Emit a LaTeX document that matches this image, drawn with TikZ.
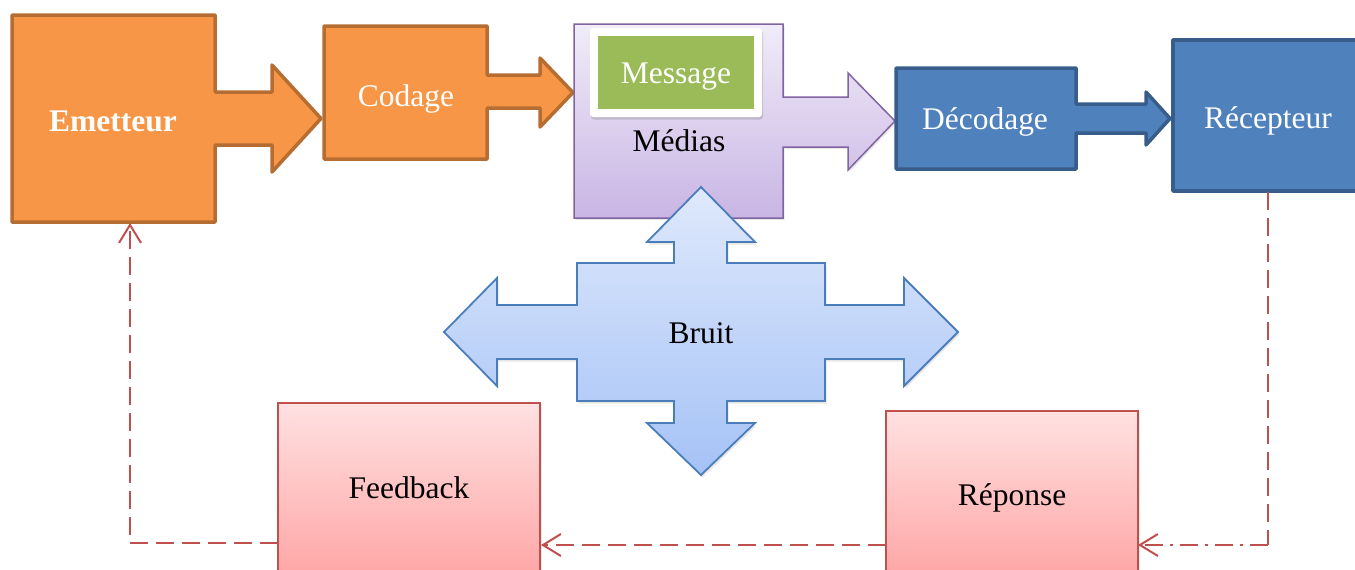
\documentclass[tikz,border=0pt]{standalone}
\usepackage{fontspec}
\setmainfont{Liberation Serif}
\usetikzlibrary{arrows.meta,shadows}

\definecolor{orfill}{HTML}{F79646}
\definecolor{ordraw}{HTML}{B66D31}
\definecolor{purtop}{HTML}{F0ECF8}
\definecolor{purbot}{HTML}{C9B5E4}
\definecolor{purdraw}{HTML}{8064A2}
\definecolor{msggreen}{HTML}{9BBB59}
\definecolor{blfill}{HTML}{4F81BD}
\definecolor{bldraw}{HTML}{385D8A}
\definecolor{brtop}{HTML}{DFE9FC}
\definecolor{brbot}{HTML}{A5C2F6}
\definecolor{brdraw}{HTML}{4A7EBB}
\definecolor{pktop}{HTML}{FFE1E1}
\definecolor{pkbot}{HTML}{FF9F9F}
\definecolor{pkdraw}{HTML}{C0504D}
\definecolor{fbred}{HTML}{C0504D}

\tikzset{
  txt/.style={anchor=base, inner sep=0pt, font=\fontsize{31.5}{36}\selectfont},
  orangeblk/.style={fill=orfill, draw=ordraw, line width=3.5pt, line join=round},
  blueblk/.style={fill=blfill, draw=bldraw, line width=3.5pt, line join=round},
  purpleblk/.style={top color=purtop, bottom color=purbot, draw=purdraw, line width=1.5pt,
    drop shadow={shadow xshift=1.5pt, shadow yshift=-2pt, opacity=0.18}},
  noiseblk/.style={top color=brtop, bottom color=brbot, draw=brdraw, line width=1.8pt,
    drop shadow={shadow xshift=1.5pt, shadow yshift=-2.5pt, opacity=0.2}},
  pinkbox/.style={rectangle, inner sep=0pt, top color=pktop, bottom color=pkbot, draw=pkdraw,
    line width=1.5pt, drop shadow={shadow xshift=2pt, shadow yshift=-1pt, opacity=0.18}},
  fbline/.style={draw=fbred, line width=2pt, dash pattern=on 18pt off 8pt},
  fbdashdot/.style={draw=fbred, line width=2pt, dash pattern=on 18pt off 7pt on 3pt off 7pt},
  barb/.style={-{Straight Barb[length=18pt,width=22pt,line width=2pt]}}
}

\begin{document}
\begin{tikzpicture}[x=1pt,y=-1pt]
\useasboundingbox (0,0) rectangle (1355,570);
\clip (0,0) rectangle (1355,570);

% Emetteur with its outgoing arrow
\draw[orangeblk] (12,15) -- (215,15) -- (215,92) -- (272,92) -- (272,65) -- (321,118.5)
  -- (272,172) -- (272,145) -- (215,145) -- (215,222) -- (12,222) -- cycle;
\node[txt, text=white, font=\fontsize{31.5}{36}\selectfont\bfseries] (emetteur) at (113,131) {Emetteur};
\coordinate (em-s) at (130,223);

% Codage
\draw[orangeblk] (324,26) -- (487,26) -- (487,75) -- (540,75) -- (540,58) -- (573,92.5)
  -- (540,127) -- (540,108) -- (487,108) -- (487,159) -- (324,159) -- cycle;
\node[txt, text=white] (codage) at (406,106) {Codage};

% Medias with the message inside
\draw[purpleblk] (574,24) -- (783,24) -- (783,97) -- (848,97) -- (848,73) -- (895,121)
  -- (848,170) -- (848,147) -- (783,147) -- (783,218) -- (574,218) -- cycle;
\draw[fill=white, draw=none, rounded corners=3pt,
  drop shadow={shadow xshift=1pt, shadow yshift=-2.5pt, opacity=0.3}] (590,28) rectangle (762,117);
\fill[msggreen] (598,36) rectangle (754,109);
\node[txt, text=white] (message) at (676,83) {Message};
\node[txt] (medias) at (679,151) {Médias};

% Decodage
\draw[blueblk] (896,68) -- (1076,68) -- (1076,104) -- (1146,104) -- (1146,92) -- (1170,118.5)
  -- (1146,145) -- (1146,133) -- (1076,133) -- (1076,169) -- (896,169) -- cycle;
\node[txt, text=white] (decodage) at (985,129) {Décodage};

% Recepteur
\draw[blueblk] (1173,40) rectangle (1370,191);
\node[txt, text=white] (recepteur) at (1268,128) {Récepteur};
\coordinate (rec-s) at (1268,192);

% Bruit: four-way arrow
\draw[noiseblk, line join=miter] (701,187) -- (755,242) -- (727,242) -- (727,263) -- (825,263)
  -- (825,305) -- (904,305) -- (904,278) -- (958,332) -- (904,386) -- (904,359)
  -- (825,359) -- (825,401) -- (727,401) -- (727,423) -- (755,423) -- (701,475)
  -- (647,423) -- (674,423) -- (674,401) -- (577,401) -- (577,359) -- (497,359)
  -- (497,386) -- (444,332) -- (497,278) -- (497,305) -- (577,305) -- (577,263)
  -- (674,263) -- (674,242) -- (647,242) -- cycle;
\node[txt] (bruit) at (701,343) {Bruit};

% Feedback and Reponse
\node[pinkbox, minimum width=262pt, minimum height=192pt] (feedback) at (409,499) {};
\node[txt] (feedback-t) at (409,498) {Feedback};
\node[pinkbox, minimum width=252pt, minimum height=184pt] (reponse) at (1012,503) {};
\node[txt] (reponse-t) at (1012,505) {Réponse};

% Feedback loop
\coordinate (rec-corner) at (1268,545);
\coordinate (rep-e) at (1138,545);
\coordinate (rep-w) at (886,545);
\coordinate (fb-e) at (541,545);
\coordinate (fb-w) at (278,543);
\coordinate (em-corner) at (130,543);

\draw[fbline] (rec-s) -- (rec-corner);
\draw[fbdashdot, barb] (rec-corner) -- (rep-e);
\draw[fbline, barb] (rep-w) -- (fb-e);
\draw[fbline, barb] (fb-w) -- (em-corner) -- (em-s);
\end{tikzpicture}
\end{document}
